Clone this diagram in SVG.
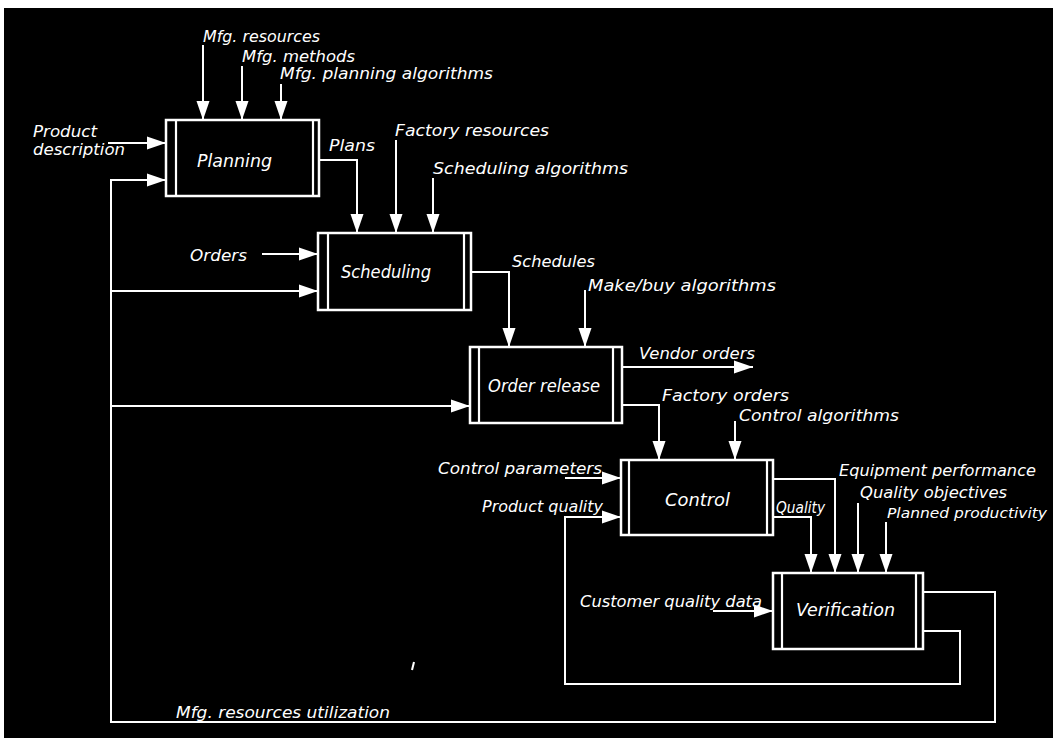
<svg xmlns="http://www.w3.org/2000/svg" width="1053" height="738" viewBox="0 0 1053 738">
<style>
.box{fill:#000;stroke:#fff;stroke-width:2.5}
.bar{stroke:#fff;stroke-width:2.2}
.c{fill:none;stroke:#fff;stroke-width:2;marker-end:url(#ah)}
.l{fill:none;stroke:#fff;stroke-width:2}
text{font-family:"DejaVu Sans","Liberation Sans",sans-serif;font-style:italic;font-size:16.5px;fill:#fff}
.n{font-size:17px}
.s{font-size:15px}
.t{font-size:14px}
</style>
<defs>
<marker id="ah" markerUnits="userSpaceOnUse" markerWidth="20" markerHeight="14" refX="19" refY="7" orient="auto">
<path d="M0,0.5 L19,7 L0,13.5 Z" fill="#fff"/>
</marker>
</defs>
<rect x="0" y="0" width="1053" height="738" fill="#fff"/>
<rect x="4" y="8" width="1049" height="730" fill="#000"/>

<g id="connectors">
<path class="c" d="M203,45 V120"/>
<path class="c" d="M242,66 V120"/>
<path class="c" d="M281,84 V120"/>
<path class="c" d="M108,143 H166"/>
<path class="c" d="M923,592 H995 V722 H111 V180 H166"/>
<path class="c" d="M111,291 H318"/>
<path class="c" d="M111,406 H470"/>
<path class="c" d="M319,160 H357 V233"/>
<path class="c" d="M396,140 V233"/>
<path class="c" d="M433,178 V233"/>
<path class="c" d="M262,254 H318"/>
<path class="c" d="M471,272 H509 V347"/>
<path class="c" d="M585,290 V347"/>
<path class="c" d="M622,367 H753"/>
<path class="c" d="M622,405 H659 V460"/>
<path class="c" d="M735,421 V460"/>
<path class="c" d="M565,478 H621"/>
<path class="c" d="M923,631 H960 V684 H565 V517 H621"/>
<path class="c" d="M773,479 H835 V573"/>
<path class="c" d="M773,517 H811 V573"/>
<path class="c" d="M858,503 V573"/>
<path class="c" d="M886,522 V573"/>
<path class="c" d="M713,611 H773"/>
<path class="l" d="M414,662 L412,670" stroke-width="1.5"/>
</g>

<g id="planning">
<rect class="box" x="166" y="120" width="153" height="76"/>
<line class="bar" x1="176" y1="120" x2="176" y2="196"/>
<line class="bar" x1="313" y1="120" x2="313" y2="196"/>
<text class="n" x="197" y="167" textLength="75" lengthAdjust="spacingAndGlyphs">Planning</text>
</g>
<g id="scheduling">
<rect class="box" x="318" y="233" width="153" height="77"/>
<line class="bar" x1="328" y1="233" x2="328" y2="310"/>
<line class="bar" x1="464" y1="233" x2="464" y2="310"/>
<text class="n" x="341" y="278" textLength="90" lengthAdjust="spacingAndGlyphs">Scheduling</text>
</g>
<g id="order-release">
<rect class="box" x="470" y="347" width="152" height="76"/>
<line class="bar" x1="479" y1="347" x2="479" y2="423"/>
<line class="bar" x1="613" y1="347" x2="613" y2="423"/>
<text class="n" x="488" y="392" textLength="112" lengthAdjust="spacingAndGlyphs">Order release</text>
</g>
<g id="control">
<rect class="box" x="621" y="460" width="152" height="75"/>
<line class="bar" x1="629" y1="460" x2="629" y2="535"/>
<line class="bar" x1="767" y1="460" x2="767" y2="535"/>
<text class="n" x="665" y="506" textLength="65" lengthAdjust="spacingAndGlyphs">Control</text>
</g>
<g id="verification">
<rect class="box" x="773" y="573" width="150" height="76"/>
<line class="bar" x1="782" y1="573" x2="782" y2="649"/>
<line class="bar" x1="916" y1="573" x2="916" y2="649"/>
<text class="n" x="796" y="616" textLength="99" lengthAdjust="spacingAndGlyphs">Verification</text>
</g>

<g id="labels">
<text x="203" y="42" textLength="117" lengthAdjust="spacingAndGlyphs">Mfg. resources</text>
<text x="242" y="62" textLength="113" lengthAdjust="spacingAndGlyphs">Mfg. methods</text>
<text x="280" y="79" textLength="213" lengthAdjust="spacingAndGlyphs">Mfg. planning algorithms</text>
<text class="s" x="33" y="137" textLength="64" lengthAdjust="spacingAndGlyphs">Product</text>
<text class="s" x="33" y="155" textLength="92" lengthAdjust="spacingAndGlyphs">description</text>
<text x="329" y="151" textLength="46" lengthAdjust="spacingAndGlyphs">Plans</text>
<text x="395" y="136" textLength="154" lengthAdjust="spacingAndGlyphs">Factory resources</text>
<text x="433" y="174" textLength="195" lengthAdjust="spacingAndGlyphs">Scheduling algorithms</text>
<text x="190" y="261" textLength="57" lengthAdjust="spacingAndGlyphs">Orders</text>
<text x="512" y="267" textLength="83" lengthAdjust="spacingAndGlyphs">Schedules</text>
<text x="588" y="291" textLength="188" lengthAdjust="spacingAndGlyphs">Make/buy algorithms</text>
<text x="639" y="359" textLength="116" lengthAdjust="spacingAndGlyphs">Vendor orders</text>
<text x="662" y="401" textLength="127" lengthAdjust="spacingAndGlyphs">Factory orders</text>
<text x="739" y="421" textLength="160" lengthAdjust="spacingAndGlyphs">Control algorithms</text>
<text x="438" y="474" textLength="164" lengthAdjust="spacingAndGlyphs">Control parameters</text>
<text x="482" y="512" textLength="121" lengthAdjust="spacingAndGlyphs">Product quality</text>
<text x="776" y="513" textLength="49" lengthAdjust="spacingAndGlyphs">Quality</text>
<text x="839" y="476" textLength="197" lengthAdjust="spacingAndGlyphs">Equipment performance</text>
<text x="860" y="498" textLength="147" lengthAdjust="spacingAndGlyphs">Quality objectives</text>
<text class="t" x="887" y="518" textLength="160" lengthAdjust="spacingAndGlyphs">Planned productivity</text>
<text x="580" y="607" textLength="182" lengthAdjust="spacingAndGlyphs">Customer quality data</text>
<text x="176" y="718" textLength="214" lengthAdjust="spacingAndGlyphs">Mfg. resources utilization</text>
</g>
</svg>
